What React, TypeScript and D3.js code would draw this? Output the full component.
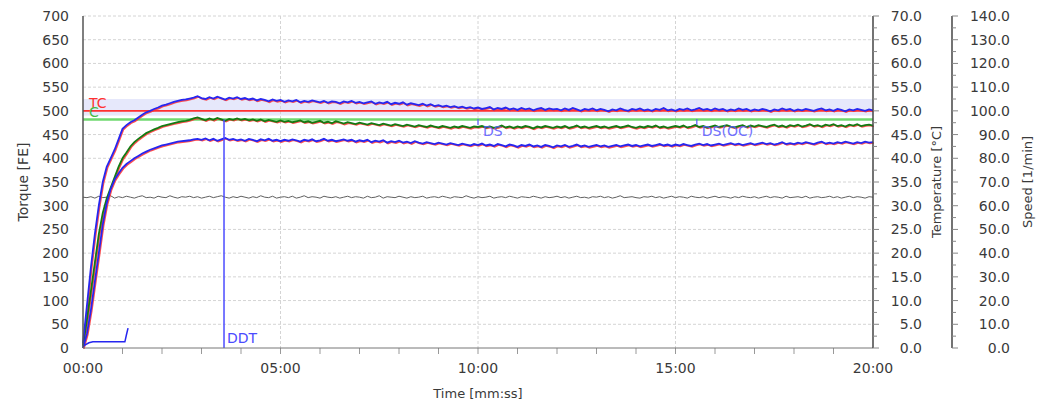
import React from "react";
import * as d3 from "d3";

// sample spacing of the torque traces, in minutes
const sampleStep = 0.1;

const upperTorque = [
  10, 90, 170, 240, 300, 350, 382, 400, 418, 440,
  462, 470, 476, 480, 486, 492, 497, 500, 504, 507,
  511, 513, 516, 519, 521, 523, 524, 526, 528, 531,
  527, 525, 529, 526, 530, 527, 524, 528, 526, 529,
  525, 527, 524, 526, 522, 525, 523, 520, 524, 521,
  523, 519, 522, 520, 523, 518, 521, 519, 522, 520,
  518, 521, 517, 520, 519, 516, 520, 518, 521, 517,
  519, 516, 518, 520, 515, 518, 516, 519, 514, 517,
  515, 518, 513, 516, 514, 512, 515, 511, 514, 510,
  512, 509, 511, 508, 510, 507, 509, 506, 508, 505,
  507, 504, 506, 508, 503, 506, 504, 507, 503, 505,
  502, 506, 503, 505, 501, 504, 506, 502, 505, 503,
  504, 501, 505, 502, 506, 503, 500, 504, 502, 505,
  501, 504, 502, 499, 503, 501, 505, 502, 500, 504,
  502, 505, 501, 503, 500, 504, 502, 506, 501, 503,
  500, 504, 502, 505, 501, 503, 506, 502, 504, 501,
  505, 502, 504, 500, 503, 501, 505, 502, 504, 500,
  503, 501, 504, 502, 499, 503, 501, 505, 502, 504,
  500, 503, 501, 504, 502, 500, 503, 505, 501, 503,
  500, 504, 502, 499, 503, 501, 504, 502, 500, 503, 501,
];

const middleTorque = [
  5, 60, 120, 180, 240, 285, 315, 338, 360, 382,
  400, 412, 425, 434, 441, 447, 453, 457, 461, 464,
  468, 470, 472, 474, 476, 478, 479, 481, 484, 486,
  483, 480, 484, 481, 485, 482, 479, 483, 481, 484,
  481, 483, 480, 482, 479, 482, 478, 481, 479, 477,
  480, 477, 479, 476, 478, 480, 476, 478, 475, 477,
  479, 475, 477, 474, 478, 476, 473, 476, 474, 472,
  475, 473, 471, 474, 472, 470, 473, 471, 469, 472,
  470, 468, 471, 469, 467, 470, 468, 466, 469, 467,
  465, 468, 466, 464, 467, 465, 468, 466, 464, 467,
  466, 468, 465, 467, 464, 466, 469, 465, 467, 464,
  467, 465, 468, 466, 463, 467, 465, 468, 466, 464,
  467, 465, 468, 464, 466, 469, 465, 467, 464, 466,
  468, 465, 467, 464, 466, 468, 465, 467, 469, 466,
  464, 467, 465, 468, 466, 469, 465, 467, 464, 466,
  468, 466, 469, 465, 467, 470, 466, 468, 465, 467,
  469, 466, 468, 470, 467, 465, 468, 470, 466, 469,
  467, 470, 468, 466, 469, 471, 467, 469, 466, 470,
  468, 471, 467, 469, 472, 468, 470, 467, 471, 469,
  472, 468, 470, 467, 471, 469, 472, 468, 470, 471, 469,
];

const lowerTorque = [
  0, 30, 80, 140, 200, 260, 305, 335, 355, 368,
  380, 388, 394, 400, 405, 410, 414, 418, 421, 424,
  427, 429, 431, 433, 435, 436, 437, 438, 440, 441,
  439, 442, 438, 441, 437, 440, 443, 439, 441, 438,
  440, 437, 441, 439, 436, 440, 438, 441, 437, 439,
  436, 439, 437, 440, 438, 435, 439, 437, 440, 436,
  438, 441, 437, 439, 436, 438, 440, 437, 439, 435,
  438, 436, 439, 434, 437, 435, 438, 433, 436, 434,
  437, 433, 435, 432, 436, 433, 431, 434, 432, 430,
  433, 431, 429, 432, 430, 428, 431, 429, 427, 430,
  428, 431, 427, 429, 426, 430, 428, 425, 429, 427,
  424, 428, 426, 429, 425, 427, 424, 428, 426, 423,
  427, 425, 428, 424, 426, 429, 425, 427, 424, 426,
  428, 425, 427, 424, 426, 428, 425, 427, 429, 426,
  428, 425, 427, 429, 426, 428, 430, 427, 429, 426,
  429, 427, 430, 428, 426, 429, 431, 428, 430, 427,
  429, 431, 428, 430, 432, 429, 431, 428, 430, 432,
  429, 431, 433, 430, 432, 429, 431, 434, 430, 432,
  430, 433, 431, 434, 432, 430, 433, 435, 431, 433,
  431, 434, 432, 435, 433, 431, 434, 432, 435, 433, 434,
];

const speedTrace = [
  318, 317, 319, 316, 320, 317, 318, 321, 316, 319,
  317, 320, 318, 316, 319, 321, 317, 318, 316, 320,
  318, 317, 321, 318, 316, 319, 318, 320, 317, 319,
  316, 318, 320, 317, 319, 321, 318, 316, 319, 317,
  320, 318, 316, 319, 317, 321, 318, 317, 320, 316,
  318, 319, 317, 320, 316, 318, 321, 317, 319, 318,
  316, 320, 318, 317, 319, 316, 318, 320, 317, 319,
  318, 316, 320, 317, 318, 321, 316, 319, 318, 317,
  320, 318, 316, 319, 317, 318, 320, 316, 318, 319,
  317, 320, 318, 316, 319, 318, 317, 321, 318, 316,
  319, 317, 318, 320, 316, 318, 319, 317, 320, 318,
  316, 319, 318, 317, 320, 318, 316, 319, 317, 318,
  320, 317, 319, 316, 318, 320, 317, 318, 316, 319,
  318, 320, 317, 319, 316, 318, 321, 317, 318, 319,
  317, 316, 319, 318, 320, 317, 319, 316, 318, 320,
  317, 319, 318, 316, 320, 318, 317, 319, 316, 318,
  320, 317, 319, 318, 316, 319, 317, 320, 318, 317,
  319, 316, 318, 320, 317, 319, 318, 316, 320, 317,
  318, 319, 317, 320, 316, 318, 319, 317, 318, 320,
  317, 319, 316, 318, 320, 317, 319, 318, 316, 319, 318,
];

// small trace near the origin: [minutes, torque]
const startTrace: [number, number][] = [
  [0, 4], [0.15, 11], [0.25, 13], [1.06, 13], [1.1, 28], [1.14, 42],
];

const targetTorque = 500; // TC
const centerTorque = 482; // C
const bandTorque = [490, 525];
const ddtTime = 3.57;
const ddtTop = 482;
const markers = [
  { label: "DS", time: 10.0, top: 483, bottom: 470 },
  { label: "DS(OC)", time: 15.54, top: 483, bottom: 470 },
];

const torqueTicks = d3.range(0, 701, 50);
const timeTicks = [0, 5, 10, 15, 20];
const tempTicks = d3.range(0, 71, 5);
const speedTicks = d3.range(0, 141, 10);

const FONT = "DejaVu Sans, sans-serif";
const TEXT = "#3a3a3a";
const BLUE = "#2626f0";
const RED = "#ff3030";

function App() {
  const width = 1047;
  const height = 404;
  const left = 83;
  const right = 873;
  const top = 16;
  const bottom = 348;
  const speedAxisX = 952;

  const x = d3.scaleLinear().domain([0, 20]).range([left, right]);
  const y = d3.scaleLinear().domain([0, 700]).range([bottom, top]);
  const yTemp = d3.scaleLinear().domain([0, 70]).range([bottom, top]);
  const ySpeed = d3.scaleLinear().domain([0, 140]).range([bottom, top]);

  const line = d3
    .line<number>()
    .x((_, i) => x(i * sampleStep))
    .y((d) => y(d));
  const pairLine = d3
    .line<[number, number]>()
    .x((d) => x(d[0]))
    .y((d) => y(d[1]));

  const fmtTime = (m: number) => `${String(m).padStart(2, "0")}:00`;
  const fmt1 = d3.format(".1f");

  return (
    <svg
      width={width}
      height={height}
      style={{ position: "absolute", left: 0, top: 0, background: "#fff" }}
      fontFamily={FONT}
    >
      {/* band around target */}
      <rect
        x={left}
        y={y(bandTorque[1])}
        width={right - left}
        height={y(bandTorque[0]) - y(bandTorque[1])}
        fill="#e6e8fb"
      />

      {/* grid */}
      <g stroke="#d4d4d4" strokeDasharray="3,2">
        {torqueTicks.slice(1).map((t) => (
          <line key={t} x1={left} x2={right} y1={y(t)} y2={y(t)} />
        ))}
        {timeTicks.slice(1, -1).map((t) => (
          <line key={t} x1={x(t)} x2={x(t)} y1={top} y2={bottom} />
        ))}
      </g>

      {/* minute ticks */}
      <g stroke="#999">
        {d3.range(1, 20).map((m) => (
          <line key={m} x1={x(m)} x2={x(m)} y1={bottom} y2={bottom + 6} />
        ))}
      </g>

      {/* reference lines */}
      <line x1={left} x2={right} y1={y(centerTorque)} y2={y(centerTorque)} stroke="#6fd86f" strokeWidth={2.5} />
      <line x1={left} x2={right} y1={y(targetTorque)} y2={y(targetTorque)} stroke={RED} strokeWidth={1.6} />
      <text x={89} y={y(targetTorque) - 3} fill={RED} fontSize={14}>TC</text>
      <text x={89} y={y(centerTorque) - 2} fill="#44bb44" fontSize={14}>C</text>

      {/* speed trace */}
      <path d={line(speedTrace) ?? ""} fill="none" stroke="#606060" strokeWidth={1} />

      {/* red shadows under the traces */}
      <g transform="translate(0.9,0.9)" fill="none" stroke={RED} strokeWidth={1.6} opacity={0.85}>
        <path d={line(upperTorque) ?? ""} />
        <path d={line(middleTorque) ?? ""} />
        <path d={line(lowerTorque) ?? ""} />
      </g>
      <path d={line(middleTorque) ?? ""} fill="none" stroke="#137a13" strokeWidth={1.8} />
      <path d={line(upperTorque) ?? ""} fill="none" stroke={BLUE} strokeWidth={1.8} />
      <path d={line(lowerTorque) ?? ""} fill="none" stroke={BLUE} strokeWidth={1.8} />
      <path d={pairLine(startTrace) ?? ""} fill="none" stroke={BLUE} strokeWidth={1.5} />

      {/* DDT */}
      <line x1={x(ddtTime)} x2={x(ddtTime)} y1={y(0)} y2={y(ddtTop)} stroke="#4b4bff" strokeWidth={1.5} />
      <text x={x(ddtTime) + 3} y={y(0) - 5} fill="#4b4bff" fontSize={14}>DDT</text>

      {markers.map((m) => (
        <g key={m.label} stroke="#5a5aff" fill="#5a5aff">
          <line x1={x(m.time)} x2={x(m.time)} y1={y(m.top)} y2={y(m.bottom)} strokeWidth={1.2} />
          <text x={x(m.time) + 5} y={y(m.bottom) + 11} stroke="none" fontSize={14} opacity={0.85}>
            {m.label}
          </text>
        </g>
      ))}

      {/* axes lines */}
      <line x1={left} x2={left} y1={top} y2={bottom} stroke="#555" strokeWidth={1.5} />
      <line x1={left} x2={right} y1={bottom} y2={bottom} stroke="#777" strokeWidth={1} />
      <line x1={right} x2={right} y1={top} y2={bottom} stroke="#444" strokeWidth={1.5} />
      <line x1={speedAxisX} x2={speedAxisX} y1={top} y2={bottom} stroke="#444" strokeWidth={1.5} />

      {/* left axis labels */}
      <g fill={TEXT} fontSize={14} textAnchor="end">
        {torqueTicks.map((t) => (
          <text key={t} x={69} y={y(t)} dy="0.36em">{t}</text>
        ))}
      </g>
      <text
        transform={`translate(28, ${(top + bottom) / 2}) rotate(-90)`}
        textAnchor="middle"
        fill={TEXT}
        fontSize={14}
      >
        Torque [FE]
      </text>

      {/* time axis labels */}
      <g fill={TEXT} fontSize={14} textAnchor="middle">
        {timeTicks.map((t) => (
          <text key={t} x={x(t)} y={373}>{fmtTime(t)}</text>
        ))}
      </g>
      <text x={(left + right) / 2} y={398} textAnchor="middle" fill={TEXT} fontSize={13}>
        Time [mm:ss]
      </text>

      {/* temperature axis */}
      <g stroke="#888">
        {d3.range(0, 70.1, 2.5).map((t) => (
          <line key={t} x1={right} x2={right + (t % 5 === 0 ? 6 : 4)} y1={yTemp(t)} y2={yTemp(t)} />
        ))}
      </g>
      <g fill={TEXT} fontSize={14} textAnchor="end">
        {tempTicks.map((t) => (
          <text key={t} x={922} y={yTemp(t)} dy="0.36em">{fmt1(t)}</text>
        ))}
      </g>
      <text
        transform={`translate(941, ${(top + bottom) / 2}) rotate(-90)`}
        textAnchor="middle"
        fill={TEXT}
        fontSize={13}
      >
        Temperature [°C]
      </text>

      {/* speed axis */}
      <g stroke="#888">
        {d3.range(0, 140.1, 5).map((t) => (
          <line key={t} x1={speedAxisX} x2={speedAxisX + (t % 10 === 0 ? 6 : 4)} y1={ySpeed(t)} y2={ySpeed(t)} />
        ))}
      </g>
      <g fill={TEXT} fontSize={14} textAnchor="end">
        {speedTicks.map((t) => (
          <text key={t} x={1010} y={ySpeed(t)} dy="0.36em">{fmt1(t)}</text>
        ))}
      </g>
      <text
        transform={`translate(1032, ${(top + bottom) / 2}) rotate(-90)`}
        textAnchor="middle"
        fill={TEXT}
        fontSize={13}
      >
        Speed [1/min]
      </text>
    </svg>
  );
}

export default App;
